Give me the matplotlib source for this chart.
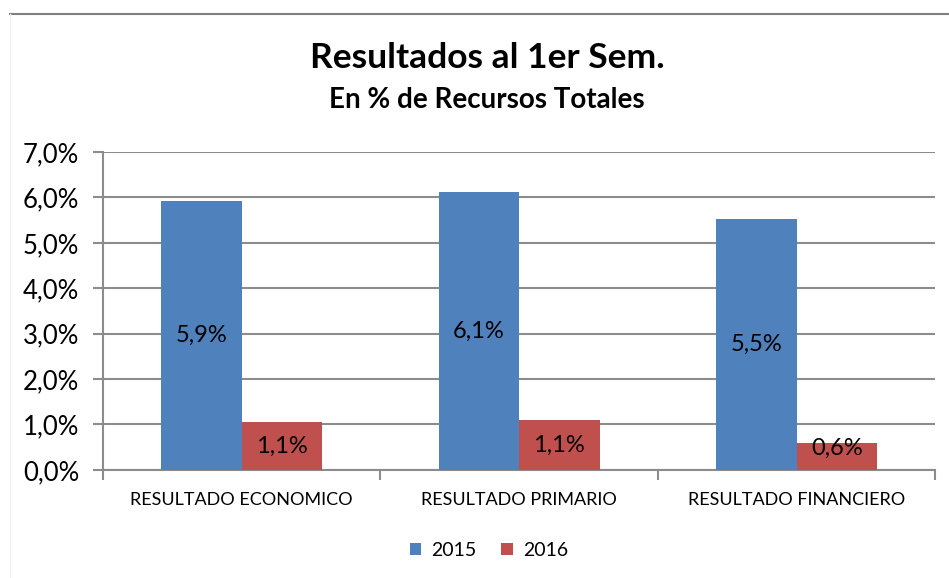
import matplotlib
matplotlib.use("Agg")
import matplotlib.pyplot as plt
import numpy as np
from matplotlib.ticker import FuncFormatter

categories = ["RESULTADO ECONOMICO", "RESULTADO PRIMARIO", "RESULTADO FINANCIERO"]
vals_2015 = [5.93, 6.12, 5.53]
vals_2016 = [1.05, 1.10, 0.59]
series_names = ["2015", "2016"]

blue = "#4F81BD"
red = "#C0504D"
grid_c = "#8C8C8C"

plt.rcParams["font.family"] = ["Lato", "DejaVu Sans"]

fig = plt.figure(figsize=(9.49, 5.78), dpi=100)
ax = fig.add_axes([0.1085, 0.187, 0.877, 0.55])

x = np.arange(len(categories))
w = 0.29
b1 = ax.bar(x - w / 2, vals_2015, w, color=blue, label=series_names[0], zorder=3)
b2 = ax.bar(x + w / 2, vals_2016, w, color=red, label=series_names[1], zorder=3)

def pct(v):
    return f"{v:.1f}%".replace(".", ",")

for bars in (b1, b2):
    for r in bars:
        h = r.get_height()
        ax.text(r.get_x() + r.get_width() / 2, max(h / 2, 0.48), pct(h),
                ha="center", va="center", fontsize=17, color="black", zorder=4)

ax.set_ylim(0, 7)
ax.set_xlim(-0.5, 2.5)
ax.set_yticks(np.arange(0, 7.01, 1))
ax.yaxis.set_major_formatter(FuncFormatter(lambda v, p: pct(v)))
ax.grid(axis="y", color=grid_c, linewidth=1.5, zorder=0)
ax.set_xticks(x)
ax.set_xticklabels(categories, fontsize=13)
ax.set_xticks([-0.5, 0.5, 1.5, 2.5], minor=True)
ax.tick_params(axis="x", which="major", length=0, pad=16)
ax.tick_params(axis="x", which="minor", length=7, width=1.5, color=grid_c)
ax.tick_params(axis="y", length=7, width=1.5, color=grid_c, labelsize=18.5, pad=10)
for s in ["top", "right"]:
    ax.spines[s].set_visible(False)
ax.spines["left"].set_color(grid_c)
ax.spines["left"].set_linewidth(1.5)
ax.spines["bottom"].set_color(grid_c)
ax.spines["bottom"].set_linewidth(1.5)

fig.text(0.513, 0.9, "Resultados al 1er Sem.", ha="center", va="center",
         fontsize=25.5, fontweight="bold")
fig.text(0.513, 0.827, "En % de Recursos Totales", ha="center", va="center",
         fontsize=20, fontweight="bold")

# chart border lines
fig.add_artist(plt.Line2D([0.0105, 1.0], [0.976, 0.976], color="#808080", linewidth=1.5))
fig.add_artist(plt.Line2D([0.0105, 0.0105], [0.0, 0.976], color="#F0F0F0", linewidth=1))

fig.legend(loc="center", bbox_to_anchor=(0.515, 0.048), ncol=2, frameon=False,
           fontsize=14, handlelength=0.6, handleheight=0.6, columnspacing=1.3,
           handletextpad=0.5)

fig.savefig("out.png", dpi=100)
